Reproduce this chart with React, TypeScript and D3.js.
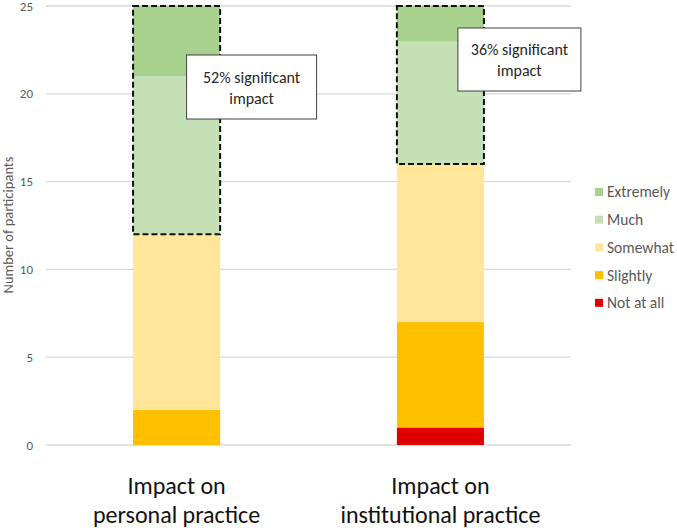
import * as d3 from "d3";

const categories = ["Impact on personal practice", "Impact on institutional practice"];
const categoryLines = [["Impact on", "personal practice"], ["Impact on", "institutional practice"]];
const levels = ["Not at all", "Slightly", "Somewhat", "Much", "Extremely"];
const notAtAll = [0, 1];
const slightly = [2, 6];
const somewhat = [10, 9];
const much = [9, 7];
const extremely = [4, 2];
const yTicks = [0, 5, 10, 15, 20, 25];
const significantLabels = ["52% significant", "36% significant"];

const colors: Record<string, string> = {
  "Not at all": "#E00000",
  "Slightly": "#FFC000",
  "Somewhat": "#FFE699",
  "Much": "#C5E0B4",
  "Extremely": "#A9D18E",
};

const W = 677;
const H = 530;
const font = "Carlito, 'Open Sans', 'Noto Sans', sans-serif";

export default function App() {
  const rows = categories.map((c, i) => ({
    category: c,
    "Not at all": notAtAll[i],
    "Slightly": slightly[i],
    "Somewhat": somewhat[i],
    "Much": much[i],
    "Extremely": extremely[i],
  }));
  const series = d3.stack<any>().keys(levels)(rows);

  const y = d3.scaleLinear().domain([0, 25]).range([445, 6]);
  const x = d3.scaleBand().domain(categories).range([46, 571]).paddingInner(0.67).paddingOuter(0.33);

  const muchSeries = series[levels.indexOf("Much")];
  const extSeries = series[levels.indexOf("Extremely")];

  // annotation boxes placed relative to bars
  const boxes = [
    { dx: 10, top: 55, w: 130, h: 64 },
    { dx: 17.5, top: 28, w: 123, h: 63 },
  ];

  return (
    <svg width={W} height={H} style={{ position: "absolute", left: 0, top: 0, background: "#fff" }}>
      {yTicks.map(t => (
        <g key={t}>
          <line x1={46} x2={571} y1={y(t)} y2={y(t)} stroke="#D9D9D9" strokeWidth={1.3} />
          <text x={33} y={y(t)} dy="0.35em" textAnchor="end" fontSize={13} fill="#595959" fontFamily={font}>{t}</text>
        </g>
      ))}
      <text transform={`translate(8,225) rotate(-90)`} textAnchor="middle" dy="0.35em" fontSize={14.5} fill="#595959" fontFamily={font}>
        Number of participants
      </text>

      {series.map(s => (
        <g key={s.key} fill={colors[s.key]}>
          {s.map((d, i) => (
            <rect key={i} x={x(categories[i])} width={x.bandwidth()} y={y(d[1])} height={y(d[0]) - y(d[1])} />
          ))}
        </g>
      ))}

      {categories.map((c, i) => {
        const x0 = x(c)!;
        const top = y(extSeries[i][1]);
        const bottom = y(muchSeries[i][0]);
        const b = boxes[i];
        const bx = x0 + x.bandwidth() / 2 + b.dx;
        return (
          <g key={c}>
            <rect x={x0} y={top} width={x.bandwidth()} height={bottom - top} fill="none" stroke="#111" strokeWidth={2} strokeDasharray="6 3" />
            <rect x={bx} y={b.top} width={b.w} height={b.h} fill="#fff" stroke="#404040" strokeWidth={1} />
            <text x={bx + b.w / 2} y={b.top + b.h / 2 - 10} textAnchor="middle" dy="0.35em" fontSize={16} fill="#262626" fontFamily={font}>{significantLabels[i]}</text>
            <text x={bx + b.w / 2} y={b.top + b.h / 2 + 11} textAnchor="middle" dy="0.35em" fontSize={16} fill="#262626" fontFamily={font}>impact</text>
            {categoryLines[i].map((l, j) => (
              <text key={j} x={x0 + x.bandwidth() / 2} y={494 + j * 29} textAnchor="middle" fontSize={24} fill="#111" fontFamily={font}>{l}</text>
            ))}
          </g>
        );
      })}

      {levels.slice().reverse().map((k, i) => (
        <g key={k} transform={`translate(595,${192 + i * 27.7})`}>
          <rect x={0} y={-4} width={8} height={8} fill={colors[k]} />
          <text x={12} dy="0.35em" fontSize={15.5} fill="#595959" fontFamily={font}>{k}</text>
        </g>
      ))}
    </svg>
  );
}
